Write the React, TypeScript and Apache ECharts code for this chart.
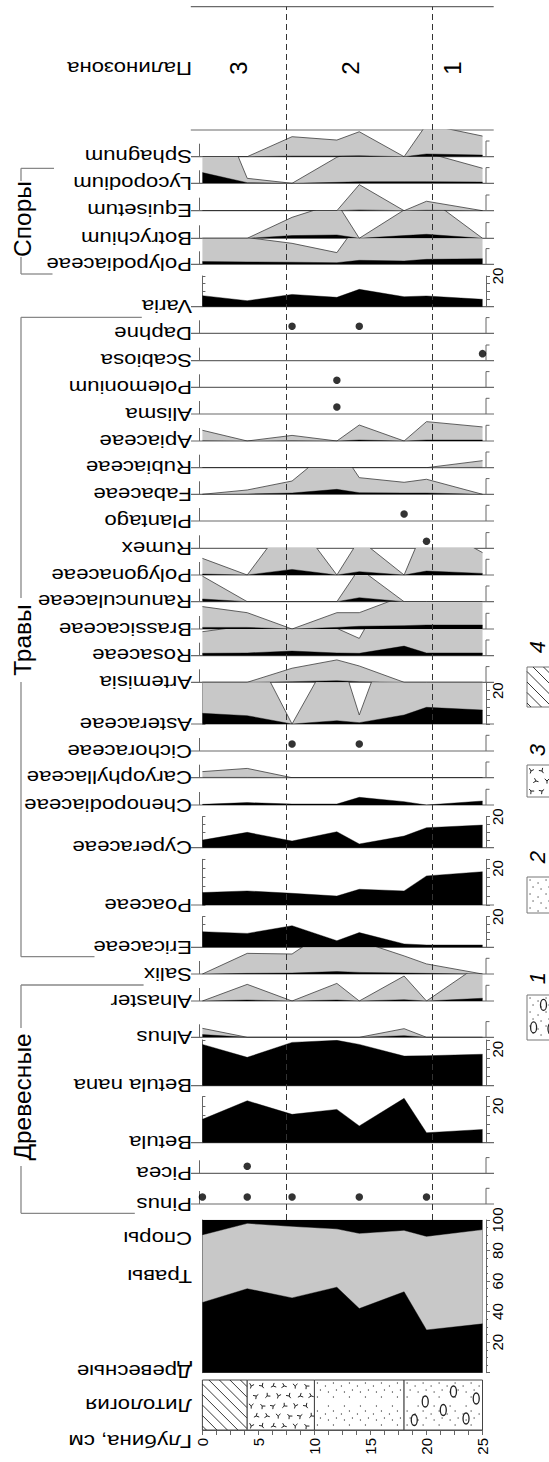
import React, { useEffect, useRef } from "react";
import * as echarts from "echarts";

// ---------------- data ----------------
const depths = [0, 4, 8, 12, 14, 18, 20, 25];
const zoneBounds = [7.5, 20.5];
const zoneNames = ["3", "2", "1"];
const zoneLabelDepths = [3.2, 13.2, 22.3];

// summary diagram (cumulative %, read as boundaries)
const sumTrees = [46, 55, 49, 56, 42, 53, 28, 32];
const sumTreesHerbs = [90, 97.6, 95.6, 94, 91, 93, 89, 93.5];
const sumAll = [100, 100, 100, 100, 100, 100, 100, 100];

// lithology
const lithoStart = [0, 4, 10, 18];
const lithoEnd = [4, 10, 18, 25];
const lithoType = [4, 3, 2, 1];
const legendTypes = [4, 3, 2, 1];

// taxa: black = value %, grey = exaggerated curve %
const sphagnumBlack = [0, 0, 0.4, 0.4, 0.6, 0, 1.7, 1.0];
const sphagnumGrey = [0, 0, 12.5, 10.4, 15.6, 0, 20.2, 12.9];
const lycopodiumBlack = [6.7, 0.4, 0, 0.6, 1.0, 1.0, 1.0, 0.8];
const lycopodiumGrey = [70.8, 3.1, 0, 16.3, 20.8, 20.8, 19.1, 9.4];
const equisetumBlack = [0, 0, 0, 0, 0.5, 0, 0.3, 0];
const equisetumGrey = [0, 0, 0, 0, 16.3, 0, 5.9, 0];
const botrychiumBlack = [0, 0, 1.7, 2.1, 0, 1.7, 2.5, 0];
const botrychiumGrey = [0, 0, 13.1, 22.1, 0, 17.7, 26, 0];
const polypodiaceaeBlack = [1.7, 1.5, 1.3, 1.0, 2.5, 2.1, 3.1, 3.5];
const polypodiaceaeGrey = [18.8, 16.7, 13.1, 7.3, 26.7, 20.8, 22.9, 22.9];
const variaBlack = [7.2, 3.9, 8.0, 6.1, 11.3, 6.5, 7.0, 4.8];
const daphneDots = [8, 14];
const scabiosaDots = [25];
const polemoniumDots = [12];
const alismaDots = [12];
const apiaceaeBlack = [0.2, 0, 0.2, 0, 0.6, 0, 0.6, 0.6];
const apiaceaeGrey = [6.7, 0, 3.5, 0, 10, 0, 12.1, 8.8];
const rubiaceaeBlack = [0, 0, 0, 0, 0, 0, 0, 0.2];
const rubiaceaeGrey = [0, 0, 0, 0, 0, 0, 0, 4.4];
const fabaceaeBlack = [0, 0.2, 0.8, 3.1, 1.0, 0.8, 0.8, 0];
const fabaceaeGrey = [0, 2.7, 8.3, 31.3, 10.4, 7.5, 9.4, 0];
const plantagoDots = [18];
const rumexDots = [20];
const polygonaceaeBlack = [0.6, 0, 3.5, 0, 2.1, 0, 2.5, 1.0];
const polygonaceaeGrey = [10.4, 0, 37.5, 0, 22.3, 0, 33.3, 14];
const ranunculaceaeBlack = [1.7, 0, 0, 0, 2.5, 0, 0, 0];
const ranunculaceaeGrey = [16.0, 0, 0, 0, 20.8, 0, 0, 0];
const brassicaceaeBlack = [1.0, 1.0, 0, 1.0, 1.7, 2.1, 2.5, 2.5];
const brassicaceaeGrey = [14, 10.2, 0, 10.2, 10.2, 20.7, 22.9, 22.9];
const rosaceaeBlack = [1.5, 1.7, 2.9, 1.7, 1.5, 6.0, 1.7, 1.7];
const rosaceaeGrey = [15, 18.8, 29.2, 17.1, 10.8, 60.4, 18.8, 18.8];
const artemisiaBlack = [0, 0, 0.4, 1.0, 0.4, 0, 0, 0];
const artemisiaGrey = [0, 0, 8.8, 14, 10.2, 0, 0, 0];
const asteraceaeBlack = [6.4, 5.0, 0, 2.0, 0.8, 5.4, 10.0, 8.4];
const asteraceaeGrey = [64, 52, 0, 48, 5.4, 78, 100, 84];
const cichoraceaeDots = [8, 14];
const caryophyllaceaeBlack = [0.2, 0.2, 0, 0, 0, 0, 0, 0];
const caryophyllaceaeGrey = [3.8, 5.8, 0, 0, 0, 0, 0, 0];
const chenopodiaceaeBlack = [0.4, 1.5, 0.6, 0.6, 4.8, 2.1, 0, 2.5];
const cyperaceaeBlack = [4.9, 9.9, 4.3, 10.3, 2.4, 7.5, 12.9, 14.6];
const poaceaeBlack = [6.8, 7.7, 6.4, 4.9, 8.6, 7.7, 15.9, 18.2];
const ericaceaeBlack = [10.2, 9.1, 14.1, 4.3, 9.6, 2.2, 1.5, 1.5];
const salixBlack = [0, 0.4, 0.6, 1.5, 1.0, 0.6, 0.4, 0];
const salixGrey = [0, 12.9, 12.5, 31.3, 20.6, 11.3, 6.3, 0];
const alnasterBlack = [0, 0.6, 0, 0.6, 0, 0.8, 0, 1.7];
const alnasterGrey = [0, 10.4, 0, 11, 0, 15.6, 0, 24];
const alnusBlack = [1.7, 0, 0, 0, 0, 1.0, 0, 0];
const alnusGrey = [5.6, 0, 0, 0, 0, 5.4, 0, 0];
const betulaNanaBlack = [22.6, 15.5, 23.7, 24.8, 22.6, 16.2, 16.4, 17.2];
const betulaBlack = [12.7, 22.8, 15.4, 18.1, 9.1, 24.1, 5.4, 7.2];
const piceaDots = [4];
const pinusDots = [0, 4, 8, 14, 20];

// ---------------- layout ----------------
const W = 549;
const H = 1462;
const GX = 199.5;
const GW = 286.5;
const XMIN = -0.26;
const XMAX = 25.31;
const K = 1.6; // px per % in narrow rows
const PRESENCE = 4.4;
const FONT = '"Liberation Sans", Arial, Helvetica, sans-serif';
const AX = "#666";
const GREY = "#c8c8c8";

type Kind = "area" | "dots" | "big";
interface Row {
  name: string;
  base: number;
  top?: number;
  kind: Kind;
  black?: number[];
  grey?: number[];
  dots?: number[];
  max?: number;
}

const rows: Row[] = [
  { name: "Sphagnum", base: 156.7, top: 130, kind: "area", black: sphagnumBlack, grey: sphagnumGrey },
  { name: "Lycopodium", base: 183.3, kind: "area", black: lycopodiumBlack, grey: lycopodiumGrey },
  { name: "Equisetum", base: 210.7, kind: "area", black: equisetumBlack, grey: equisetumGrey },
  { name: "Botrychium", base: 238.3, kind: "area", black: botrychiumBlack, grey: botrychiumGrey },
  { name: "Polypodiaceae", base: 264.3, kind: "area", black: polypodiaceaeBlack, grey: polypodiaceaeGrey },
  { name: "Varia", base: 306.7, top: 276, kind: "big", max: 20, black: variaBlack },
  { name: "Daphne", base: 333.3, kind: "dots", dots: daphneDots },
  { name: "Scabiosa", base: 360.7, kind: "dots", dots: scabiosaDots },
  { name: "Polemonium", base: 387.3, kind: "dots", dots: polemoniumDots },
  { name: "Alisma", base: 414, kind: "dots", dots: alismaDots },
  { name: "Apiaceae", base: 441, kind: "area", black: apiaceaeBlack, grey: apiaceaeGrey },
  { name: "Rubiaceae", base: 467.7, kind: "area", black: rubiaceaeBlack, grey: rubiaceaeGrey },
  { name: "Fabaceae", base: 494.3, kind: "area", black: fabaceaeBlack, grey: fabaceaeGrey },
  { name: "Plantago", base: 521, kind: "dots", dots: plantagoDots },
  { name: "Rumex", base: 548.3, kind: "dots", dots: rumexDots },
  { name: "Polygonaceae", base: 575, kind: "area", black: polygonaceaeBlack, grey: polygonaceaeGrey },
  { name: "Ranunculaceae", base: 601.7, kind: "area", black: ranunculaceaeBlack, grey: ranunculaceaeGrey },
  { name: "Brassicaceae", base: 629, kind: "area", black: brassicaceaeBlack, grey: brassicaceaeGrey },
  { name: "Rosaceae", base: 655.7, kind: "area", black: rosaceaeBlack, grey: rosaceaeGrey },
  { name: "Artemisia", base: 682.3, kind: "area", black: artemisiaBlack, grey: artemisiaGrey },
  { name: "Asteraceae", base: 724, kind: "big", max: 25, black: asteraceaeBlack, grey: asteraceaeGrey },
  { name: "Cichoraceae", base: 751, kind: "dots", dots: cichoraceaeDots },
  { name: "Caryophyllaceae", base: 777.7, kind: "area", black: caryophyllaceaeBlack, grey: caryophyllaceaeGrey },
  { name: "Chenopodiaceae", base: 805, kind: "area", black: chenopodiaceaeBlack },
  { name: "Cyperaceae", base: 847.7, top: 816.7, kind: "big", max: 20, black: cyperaceaeBlack },
  { name: "Poaceae", base: 905, top: 859.3, kind: "big", max: 25, black: poaceaeBlack },
  { name: "Ericaceae", base: 947.3, top: 916.7, kind: "big", max: 20, black: ericaceaeBlack },
  { name: "Salix", base: 974, kind: "area", black: salixBlack, grey: salixGrey },
  { name: "Alnaster", base: 1001, kind: "area", black: alnasterBlack, grey: alnasterGrey },
  { name: "Alnus", base: 1037.3, top: 1011, kind: "area", black: alnusBlack, grey: alnusGrey },
  { name: "Betula nana", base: 1085.7, top: 1040, kind: "big", max: 25, black: betulaNanaBlack },
  { name: "Betula", base: 1142.7, top: 1096.7, kind: "big", max: 25, black: betulaBlack },
  { name: "Picea", base: 1173.3, kind: "dots", dots: piceaDots },
  { name: "Pinus", base: 1204, kind: "dots", dots: pinusDots },
];

const xOf = (d: number) => GX + ((d - XMIN) / (XMAX - XMIN)) * GW;

const ln = (x1: number, y1: number, x2: number, y2: number, color = "#6a6a6a", w = 1.2) => ({
  type: "line",
  shape: { x1, y1, x2, y2 },
  style: { stroke: color, lineWidth: w },
  silent: true,
});

const lab180 = (text: string, y: number) => ({
  type: "text",
  x: 192,
  y,
  rotation: Math.PI,
  scaleX: 1.2,
  silent: true,
  style: {
    text,
    fontSize: 18.5,
    fontFamily: FONT,
    fill: "#000",
    textAlign: "left",
    textVerticalAlign: "middle",
    align: "left",
    verticalAlign: "middle",
  },
});

const lab90 = (text: string, x: number, y: number, size: number, italic = false) => ({
  type: "text",
  x,
  y,
  rotation: Math.PI / 2,
  silent: true,
  style: {
    text,
    fontSize: size,
    fontFamily: FONT,
    fontStyle: italic ? "italic" : "normal",
    fill: "#000",
    textAlign: "center",
    textVerticalAlign: "middle",
    align: "center",
    verticalAlign: "middle",
  },
});

const dotTile = [
  [3, 3],
  [11, 6],
  [6, 10],
  [14, 12],
];
const vRot = [0.3, -0.6, 1.1, -1.3, 0.0, 2.4, -2.2, 0.8];

function patternShapes(t: number, x: number, y: number, w: number, h: number, ovals: number[][]): any[] {
  const out: any[] = [];
  const ink = "#222";
  if (t === 4) {
    const s = 10.5;
    for (let c = -h + 4; c < w; c += s) {
      const v0 = Math.max(0, -c);
      const v1 = Math.min(h, w - c);
      if (v1 <= v0) continue;
      out.push({
        type: "line",
        shape: { x1: x + v0 + c, y1: y + v0, x2: x + v1 + c, y2: y + v1 },
        style: { stroke: ink, lineWidth: 0.9 },
      });
    }
  }
  if (t === 1 || t === 2) {
    for (let ty = 0; ty < h; ty += 14)
      for (let tx = 0; tx < w; tx += 16)
        for (const [dx, dy] of dotTile) {
          const px = tx + dx;
          const py = ty + dy;
          if (px > 1 && px < w - 1 && py > 1 && py < h - 1)
            out.push({ type: "circle", shape: { cx: x + px, cy: y + py, r: 0.65 }, style: { fill: "#444" } });
        }
  }
  if (t === 1) {
    for (const [fx, fy] of ovals) {
      out.push({
        type: "ellipse",
        shape: { cx: x + fx * w, cy: y + fy * h, rx: 3, ry: 5.5 },
        style: { fill: "none", stroke: ink, lineWidth: 1.3 },
      });
    }
  }
  if (t === 3) {
    let idx = 0;
    for (let ty = 6, r = 0; ty < h - 3; ty += 10, r++)
      for (let tx = r % 2 ? 9 : 4; tx < w - 3; tx += 11) {
        const a = vRot[idx % vRot.length];
        idx++;
        const cx = x + tx;
        const cy = y + ty;
        const rot = (px: number, py: number) => [
          cx + px * Math.cos(a) - py * Math.sin(a),
          cy + px * Math.sin(a) + py * Math.cos(a),
        ];
        out.push({
          type: "polyline",
          shape: { points: [rot(-2.3, -2.2), rot(0, 0), rot(2.3, -2.2)] },
          style: { stroke: ink, lineWidth: 1, fill: "none" },
        });
        out.push({
          type: "polyline",
          shape: { points: [rot(0, 0), rot(0, 2.6)] },
          style: { stroke: ink, lineWidth: 1, fill: "none" },
        });
      }
  }
  return out;
}

const lithoOvals = [
  [0.27, 0.43],
  [0.63, 0.23],
  [0.5, 0.6],
  [0.13, 0.8],
  [0.79, 0.77],
  [0.92, 0.37],
];
const legendOvals = [
  [0.55, 0.22],
  [0.22, 0.72],
  [0.8, 0.75],
];
const legendLabelY = [647, 750, 857, 978];
const legendBoxTop = [667, 765, 877, 995];
const legendBoxBottom = [707, 797, 913, 1040];

function buildOption() {
  const grids: any[] = [];
  const xAxes: any[] = [];
  const yAxes: any[] = [];
  const series: any[] = [];
  const g: any[] = [];

  // palynozone header
  g.push(ln(190.8, 6.7, 493.7, 6.7));
  g.push(ln(190.8, 130, 493.7, 130));
  g.push(lab180("Палинозона", 68));
  zoneNames.forEach((z, i) => g.push(lab90(z, xOf(zoneLabelDepths[i]), 68, 24)));

  let prev = 130;
  rows.forEach((r) => {
    const top = r.top ?? prev;
    const h = r.base - top;
    const gi = grids.length;
    grids.push({ left: GX, width: GW, top, height: h });
    xAxes.push({ type: "value", gridIndex: gi, min: XMIN, max: XMAX, show: false });
    const yi = yAxes.length;
    if (r.kind === "big") {
      const max = r.max as number;
      yAxes.push({
        type: "value",
        gridIndex: gi,
        min: 0,
        max,
        interval: 5,
        position: "left",
        axisLine: { show: true, lineStyle: { color: AX, width: 1 } },
        axisTick: { show: true, inside: true, length: 3, lineStyle: { color: AX } },
        axisLabel: { show: false },
        splitLine: { show: false },
      });
      yAxes.push({
        type: "value",
        gridIndex: gi,
        min: 0,
        max,
        interval: 5,
        position: "right",
        axisLine: { show: true, lineStyle: { color: AX, width: 1 } },
        axisTick: { show: true, inside: false, length: 4, lineStyle: { color: AX } },
        axisLabel: {
          show: true,
          rotate: 90,
          fontSize: 15,
          fontFamily: FONT,
          color: "#000",
          margin: 4,
          formatter: (v: number) => (v === 20 ? "20" : ""),
        },
        splitLine: { show: false },
      });
    } else {
      yAxes.push({ type: "value", gridIndex: gi, min: 0, max: h / K, show: false });
      g.push(ln(GX, r.base, GX, r.base - 13, AX, 1));
      g.push(ln(GX + GW, r.base, GX + GW, r.base - 15.7, AX, 1));
      g.push(ln(GX + GW, r.base - 15.7, GX + GW + 3.5, r.base - 15.7, AX, 1));
    }
    if (r.grey) {
      series.push({
        type: "line",
        xAxisIndex: gi,
        yAxisIndex: yi,
        data: depths.map((d, j) => [d, (r.grey as number[])[j]]),
        symbol: "none",
        silent: true,
        z: 2,
        lineStyle: { color: "#3c3c3c", width: 0.8 },
        areaStyle: { color: GREY, opacity: 1 },
      });
    }
    if (r.black) {
      series.push({
        type: "line",
        xAxisIndex: gi,
        yAxisIndex: yi,
        data: depths.map((d, j) => [d, (r.black as number[])[j]]),
        symbol: "none",
        silent: true,
        z: 3,
        lineStyle: { color: "#000", width: 0.4 },
        areaStyle: { color: "#000", opacity: 1 },
      });
    }
    if (r.dots) {
      series.push({
        type: "scatter",
        xAxisIndex: gi,
        yAxisIndex: yi,
        data: r.dots.map((d) => [d, PRESENCE]),
        symbol: "circle",
        symbolSize: 7.5,
        silent: true,
        clip: false,
        z: 4,
        itemStyle: { color: "#000" },
      });
    }
    g.push(ln(191, r.base, 494, r.base));
    g.push(lab180(r.name, r.base));
    prev = r.base;
  });

  // summary diagram
  const gs = grids.length;
  grids.push({ left: GX, width: GW, top: 1220, height: 152.7 });
  xAxes.push({ type: "value", gridIndex: gs, min: XMIN, max: XMAX, show: false });
  const ys = yAxes.length;
  yAxes.push({
    type: "value",
    gridIndex: gs,
    min: 0,
    max: 100,
    interval: 5,
    position: "left",
    axisLine: { show: true, lineStyle: { color: AX } },
    axisTick: { show: true, inside: true, length: 3, lineStyle: { color: AX } },
    axisLabel: { show: false },
    splitLine: { show: false },
  });
  yAxes.push({
    type: "value",
    gridIndex: gs,
    min: 0,
    max: 100,
    interval: 20,
    position: "right",
    axisLine: { show: true, lineStyle: { color: AX } },
    axisTick: { show: true, inside: false, length: 4, lineStyle: { color: AX } },
    minorTick: { show: true, splitNumber: 4, length: 2, lineStyle: { color: AX } },
    axisLabel: {
      show: true,
      rotate: 90,
      fontSize: 15,
      fontFamily: FONT,
      color: "#000",
      margin: 4,
      formatter: (v: number) => (v === 0 ? "" : String(v)),
    },
    splitLine: { show: false },
  });
  const sumSets: [number[], string, number][] = [
    [sumAll, "#000", 2],
    [sumTreesHerbs, GREY, 3],
    [sumTrees, "#000", 4],
  ];
  sumSets.forEach(([arr, col, z]) => {
    series.push({
      type: "line",
      xAxisIndex: gs,
      yAxisIndex: ys,
      data: depths.map((d, j) => [d, arr[j]]),
      symbol: "none",
      silent: true,
      z,
      lineStyle: { width: 0.4, color: col },
      areaStyle: { color: col, opacity: 1 },
    });
  });
  g.push(lab180("Споры", 1238.3));
  g.push(lab180("Травы", 1276.7));
  g.push(lab180("Древесные", 1371.7));

  // lithology + depth axis
  const gl = grids.length;
  grids.push({ left: 202.4, width: 280.1, top: 1380, height: 50 });
  xAxes.push({
    type: "value",
    gridIndex: gl,
    min: 0,
    max: 25,
    interval: 5,
    position: "bottom",
    offset: 4,
    axisLine: { show: true, lineStyle: { color: AX } },
    axisTick: { show: true, length: 5, lineStyle: { color: AX } },
    minorTick: { show: true, splitNumber: 4, length: 5, lineStyle: { color: AX } },
    axisLabel: { rotate: 90, fontSize: 15, fontFamily: FONT, color: "#000", margin: 4 },
    splitLine: { show: false },
  });
  const yl = yAxes.length;
  yAxes.push({ type: "value", gridIndex: gl, min: 0, max: 1, show: false });
  series.push({
    type: "custom",
    xAxisIndex: gl,
    yAxisIndex: yl,
    silent: true,
    clip: false,
    encode: { x: [0, 1] },
    data: lithoStart.map((s, i) => [s, lithoEnd[i], lithoType[i]]),
    renderItem: (_params: any, api: any) => {
      const s = api.value(0);
      const e = api.value(1);
      const t = api.value(2);
      const p0 = api.coord([s, 1]);
      const p1 = api.coord([e, 0]);
      const x = p0[0];
      const y = p0[1];
      const w = p1[0] - p0[0];
      const h = p1[1] - p0[1];
      return {
        type: "group",
        children: [
          { type: "rect", shape: { x, y, width: w, height: h }, style: { fill: "#fff", stroke: "#444", lineWidth: 1 } },
          ...patternShapes(t, x, y, w, h, lithoOvals),
        ],
      };
    },
  });
  g.push(lab180("Литология", 1405));
  g.push(lab180("Глубина, см", 1441));

  // zone boundaries
  const gz = grids.length;
  grids.push({ left: GX, width: GW, top: 6.7, height: 1213.3 });
  xAxes.push({ type: "value", gridIndex: gz, min: XMIN, max: XMAX, show: false });
  const yz = yAxes.length;
  yAxes.push({ type: "value", gridIndex: gz, min: 0, max: 1, show: false });
  series.push({
    type: "line",
    xAxisIndex: gz,
    yAxisIndex: yz,
    data: [[XMIN, 0]],
    symbol: "none",
    silent: true,
    z: 20,
    lineStyle: { opacity: 0 },
    markLine: {
      silent: true,
      symbol: ["none", "none"],
      label: { show: false },
      lineStyle: { color: "#333", type: [6, 4], width: 1 },
      data: zoneBounds.map((b) => ({ xAxis: b })),
    },
  });

  // group brackets
  const BC = "#888";
  g.push(ln(21, 168.3, 54, 168.3, BC, 1.3));
  g.push(ln(21, 168.3, 21, 181, BC, 1.3));
  g.push(ln(21, 257, 21, 274, BC, 1.3));
  g.push(ln(21, 274, 52.5, 274, BC, 1.3));
  g.push(lab90("Споры", 22, 219, 24.5));
  g.push(ln(21, 317.3, 141.8, 317.3, BC, 1.3));
  g.push(ln(21, 317.3, 21, 598, BC, 1.3));
  g.push(ln(21, 682, 21, 956.7, BC, 1.3));
  g.push(ln(21, 956.7, 94.5, 956.7, BC, 1.3));
  g.push(lab90("Травы", 22, 640, 24.5));
  g.push(ln(21, 985, 143.6, 985, BC, 1.3));
  g.push(ln(21, 985, 21, 1028, BC, 1.3));
  g.push(ln(21, 1166, 21, 1213.3, BC, 1.3));
  g.push(ln(21, 1213.3, 134.8, 1213.3, BC, 1.3));
  g.push(lab90("Древесные", 22, 1097, 24.5));

  // legend
  legendTypes.forEach((t, i) => {
    const x = 527;
    const y = legendBoxTop[i];
    const w = 30;
    const h = legendBoxBottom[i] - legendBoxTop[i];
    g.push({ type: "rect", shape: { x, y, width: w, height: h }, style: { fill: "#fff", stroke: "#777", lineWidth: 1 }, silent: true });
    patternShapes(t, x, y, w, h, legendOvals).forEach((el) => g.push({ ...el, silent: true }));
    g.push(lab90(String(t), 537, legendLabelY[i], 22, true));
  });

  return {
    animation: false,
    backgroundColor: "#fff",
    grid: grids,
    xAxis: xAxes,
    yAxis: yAxes,
    series,
    graphic: { elements: g },
  };
}

export default function App() {
  const ref = useRef<HTMLDivElement>(null);
  useEffect(() => {
    if (!ref.current) return;
    const chart = echarts.init(ref.current, null, { renderer: "svg", width: W, height: H });
    chart.setOption(buildOption() as any);
    return () => chart.dispose();
  }, []);
  return (
    <div
      ref={ref}
      style={{ position: "absolute", left: 0, top: 0, width: W, height: H, background: "#fff" }}
    />
  );
}
